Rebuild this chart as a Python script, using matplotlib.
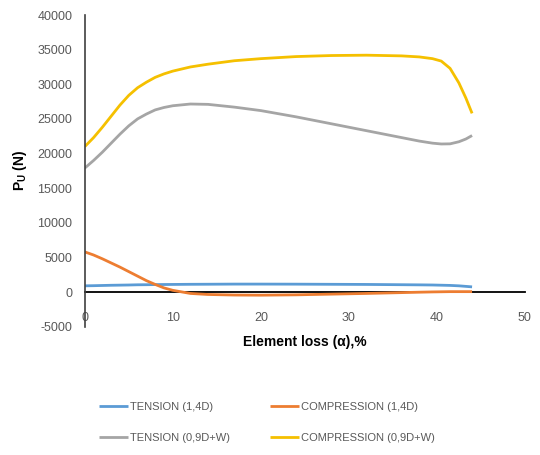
import matplotlib
matplotlib.use("Agg")
import matplotlib.pyplot as plt

# values
alpha_pct = [0, 1, 2, 3, 4, 5, 6, 7, 8, 9, 10, 12, 14, 17, 20, 24, 28, 32, 36, 38, 39.5, 40.5, 41.5, 42.5, 43.3, 44]

tension_14d = [900, 920, 950, 980, 1000, 1020, 1050, 1060, 1080, 1090, 1100, 1120, 1130, 1150, 1150, 1140, 1120, 1100, 1060, 1040, 1020, 990, 960, 900, 820, 750]
compression_14d = [5800, 5350, 4800, 4200, 3600, 2950, 2300, 1650, 1100, 600, 250, -200, -350, -430, -450, -400, -300, -200, -80, -20, 20, 40, 60, 60, 60, 60]
tension_09dw = [17900, 19000, 20200, 21500, 22800, 24000, 25000, 25700, 26300, 26650, 26900, 27150, 27100, 26700, 26200, 25300, 24300, 23300, 22300, 21800, 21500, 21380, 21400, 21700, 22100, 22600]
compression_09dw = [21000, 22300, 23800, 25400, 27000, 28400, 29500, 30300, 31000, 31500, 31900, 32500, 32900, 33400, 33700, 34000, 34150, 34200, 34100, 33950, 33700, 33350, 32300, 30200, 28000, 25800]

series_labels = ["TENSION (1,4D)", "COMPRESSION (1,4D)", "TENSION (0,9D+W)", "COMPRESSION (0,9D+W)"]
series_colors = ["#5B9BD5", "#ED7D31", "#A5A5A5", "#F5C000"]

x_ticks = [0, 10, 20, 30, 40, 50]
y_ticks = list(range(-5000, 40001, 5000))

TXT = "#595959"
plt.rcParams["font.family"] = ["Liberation Sans", "DejaVu Sans"]
plt.rcParams["axes.unicode_minus"] = False

fig = plt.figure(figsize=(5.4, 4.55), dpi=100)
ax = fig.add_axes([0.157, 0.282, 0.815, 0.685])

all_series = [tension_14d, compression_14d, tension_09dw, compression_09dw]
lines = []
for vals, lab, col in zip(all_series, series_labels, series_colors):
    ln, = ax.plot(alpha_pct, vals, color=col, lw=2.0, label=lab, solid_capstyle="butt")
    lines.append(ln)

ax.set_xlim(0, 50)
ax.set_ylim(-5000, 40000)
ax.set_xticks(x_ticks)
ax.set_yticks(y_ticks)

# horizontal axis crosses at zero, labels hang just below it
ax.spines["bottom"].set_position(("data", 0))
ax.spines["bottom"].set_color("black")
ax.spines["bottom"].set_linewidth(1.3)
ax.spines["bottom"].set_zorder(1)
for s in ("top", "right"):
    ax.spines[s].set_visible(False)
ax.spines["left"].set_color("#404040")
ax.spines["left"].set_linewidth(1.2)

ax.tick_params(axis="y", length=0, pad=9, labelsize=9, labelcolor=TXT)
ax.tick_params(axis="x", length=0, pad=14, labelsize=9, labelcolor=TXT)

ax.set_xlabel("Element loss (\u03b1),%", fontsize=10, fontweight="bold", color="black")
ax.xaxis.set_label_coords(0.5, -0.028)
ax.set_ylabel("P$_\\mathregular{U}$ (N)", fontsize=10, fontweight="bold", color="black", labelpad=6)

# legend in two rows, Excel style (row-wise order)
order = [0, 2, 1, 3]
fig.legend([lines[i] for i in order], [series_labels[i] for i in order],
           loc="lower left", bbox_to_anchor=(0.165, 0.005), ncol=2,
           frameon=False, fontsize=8, labelcolor=TXT,
           handlelength=2.6, handletextpad=0.2, columnspacing=3.6,
           labelspacing=1.85)

fig.savefig("out.png", dpi=100)
